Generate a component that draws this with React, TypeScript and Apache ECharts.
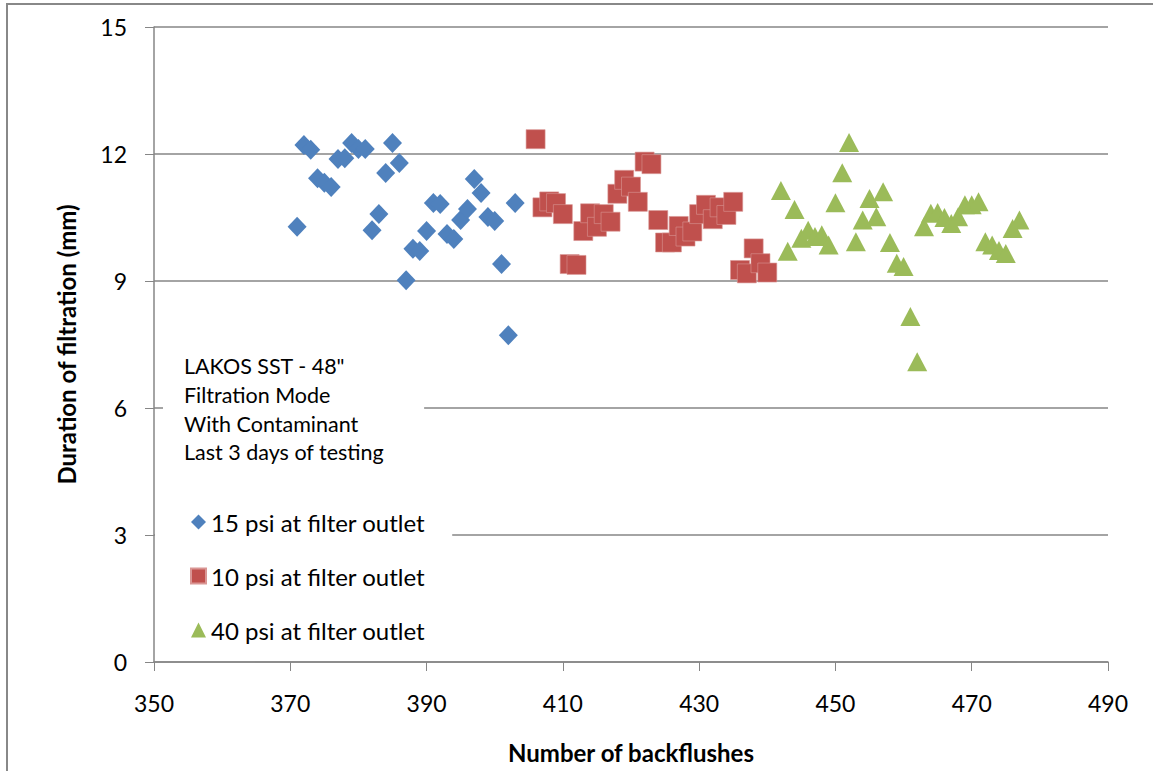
import React, { useEffect, useRef } from "react";
import * as echarts from "echarts";

const blueX = [371,372,373,374,375,376,377,378,379,380,381,382,383,384,385,386,387,388,389,390,391,392,393,394,395,396,397,398,399,400,401,402,403];
const blueY = [10.28,12.21,12.1,11.43,11.32,11.22,11.88,11.9,12.26,12.12,12.12,10.2,10.58,11.55,12.26,11.79,9.02,9.76,9.71,10.18,10.84,10.82,10.11,9.99,10.44,10.7,11.41,11.08,10.51,10.42,9.4,7.72,10.84];

const redX = [406,407,408,409,410,411,412,413,414,415,416,417,418,419,420,421,422,423,424,425,426,427,428,429,430,431,432,433,434,435,436,437,438,439,440];
const redY = [12.35,10.74,10.88,10.84,10.58,9.4,9.38,10.18,10.6,10.28,10.58,10.4,11.06,11.39,11.23,10.87,11.82,11.76,10.44,9.91,9.91,10.3,10.05,10.17,10.58,10.8,10.46,10.74,10.56,10.87,9.26,9.18,9.77,9.42,9.2];

const greenX = [442,443,444,445,446,447,448,449,450,451,452,453,454,455,456,457,458,459,460,461,462,463,464,465,466,467,468,469,470,471,472,473,474,475,476,477];
const greenY = [11.14,9.7,10.69,10.01,10.2,10.05,10.09,9.85,10.85,11.56,12.27,9.93,10.44,10.95,10.52,11.11,9.91,9.42,9.34,8.16,7.09,10.28,10.6,10.62,10.5,10.36,10.52,10.8,10.8,10.87,9.93,9.85,9.72,9.65,10.24,10.44];

const seriesNames = ["15 psi at filter outlet", "10 psi at filter outlet", "40 psi at filter outlet"];
const annotationLines = ["LAKOS SST - 48\"", "Filtration Mode", "With Contaminant", "Last 3 days of testing"];

const FONT = "Lato, 'Liberation Sans', sans-serif";

function pairs(xs: number[], ys: number[]) {
  return xs.map((x, i) => [x, ys[i]]);
}

export default function App() {
  const ref = useRef<HTMLDivElement>(null);
  useEffect(() => {
    document.body.style.margin = "0";
    const chart = echarts.init(ref.current!, null, { renderer: "svg" });
    chart.setOption({
      animation: false,
      backgroundColor: "#ffffff",
      textStyle: { fontFamily: FONT },
      title: {
        text: annotationLines.join("\n"),
        left: 163,
        top: 343,
        padding: [9, 40, 9, 21],
        backgroundColor: "#ffffff",
        textStyle: { fontFamily: FONT, fontSize: 21.5, fontWeight: "normal", color: "#000", lineHeight: 28.7 },
      },
      legend: {
        orient: "vertical",
        left: 155,
        top: 497,
        padding: [13, 27, 10, 35],
        backgroundColor: "#ffffff",
        itemWidth: 15,
        itemHeight: 15,
        itemGap: 30,
        textStyle: { fontFamily: FONT, fontSize: 24, color: "#000", lineHeight: 24 },
        data: [
          { name: seriesNames[0], icon: "diamond" },
          { name: seriesNames[1], icon: "rect" },
          { name: seriesNames[2], icon: "triangle" },
        ],
      },
      grid: { left: 154, right: 45, top: 27, bottom: 109 },
      xAxis: {
        type: "value",
        min: 350,
        max: 490,
        interval: 20,
        name: "Number of backflushes",
        nameLocation: "middle",
        nameGap: 78,
        nameTextStyle: { fontFamily: FONT, fontSize: 24, fontWeight: "bold", color: "#000" },
        axisLine: { show: true, lineStyle: { color: "#868686", width: 1.5 } },
        axisTick: { show: true, length: 9, lineStyle: { color: "#868686" } },
        axisLabel: { margin: 29, fontSize: 23, color: "#000", fontFamily: FONT },
        splitLine: { show: false },
      },
      yAxis: {
        type: "value",
        min: 0,
        max: 15,
        interval: 3,
        name: "Duration of filtration (mm)",
        nameLocation: "middle",
        nameGap: 76,
        nameTextStyle: { fontFamily: FONT, fontSize: 24, fontWeight: "bold", color: "#000" },
        axisLine: { show: true, lineStyle: { color: "#868686", width: 1.5 } },
        axisTick: { show: true, length: 9, lineStyle: { color: "#868686" } },
        axisLabel: { margin: 27, fontSize: 23, color: "#000", fontFamily: FONT },
        splitLine: { show: true, lineStyle: { color: "#868686", width: 1.5 } },
      },
      graphic: [
        {
          type: "rect",
          silent: true,
          z: -10,
          shape: { x: 7, y: 4, width: 1300, height: 900 },
          style: { fill: "none", stroke: "#888888", lineWidth: 2 },
        },
      ],
      series: [
        {
          name: seriesNames[0],
          type: "scatter",
          symbol: "diamond",
          symbolSize: [19, 20],
          itemStyle: { color: "#4F81BD", opacity: 1 },
          data: pairs(blueX, blueY),
        },
        {
          name: seriesNames[1],
          type: "scatter",
          symbol: "rect",
          symbolSize: 19,
          itemStyle: { color: "#C0504D", borderColor: "#D99694", borderWidth: 0.6, opacity: 1 },
          data: pairs(redX, redY),
        },
        {
          name: seriesNames[2],
          type: "scatter",
          symbol: "triangle",
          symbolSize: [20, 19],
          itemStyle: { color: "#9BBB59", opacity: 1 },
          data: pairs(greenX, greenY),
        },
      ],
    });
    return () => chart.dispose();
  }, []);
  return <div ref={ref} style={{ width: 1153, height: 771 }} />;
}
